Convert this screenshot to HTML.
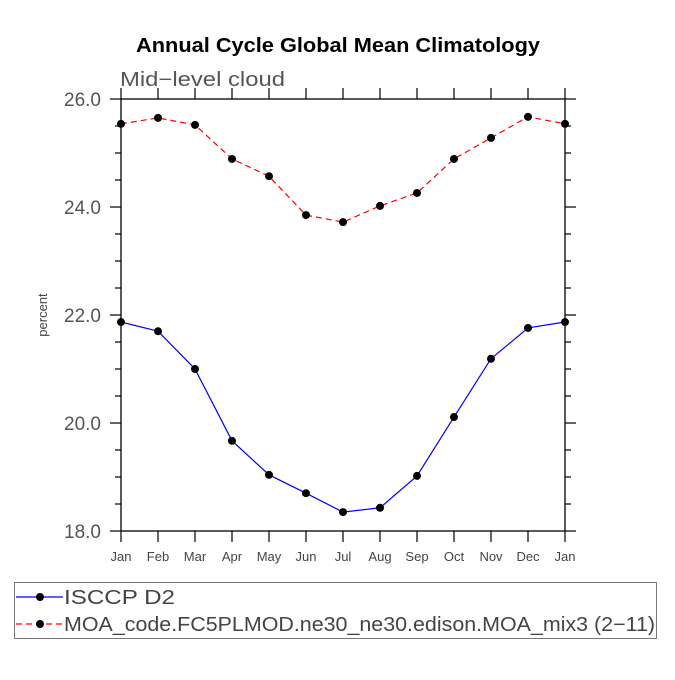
<!DOCTYPE html>
<html><head><meta charset="utf-8"><style>
body{margin:0;background:#fff}
svg text{font-family:"Liberation Sans",sans-serif}
</style></head><body>
<svg id="chart" width="675" height="675" xmlns="http://www.w3.org/2000/svg">
<rect width="675" height="675" fill="#fff"/>
<text x="136" y="52" font-size="20" font-weight="bold" textLength="404" lengthAdjust="spacingAndGlyphs">Annual Cycle Global Mean Climatology</text>
<text x="120" y="86" font-size="20" fill="#555" textLength="165" lengthAdjust="spacingAndGlyphs">Mid−level cloud</text>
<text transform="translate(47,315) rotate(-90)" text-anchor="middle" font-size="13" fill="#444">percent</text>
<g id="axes"></g>
<g id="series"></g>
<g>
<rect x="14.5" y="582.5" width="642" height="56" fill="none" stroke="#777"/>
<g>
<line x1="16" y1="597" x2="63" y2="597" stroke="#00f" stroke-width="1.2"/>
<circle cx="40" cy="597" r="4" fill="#000"/>
<text x="64" y="604" font-size="20" fill="#444" textLength="111" lengthAdjust="spacingAndGlyphs">ISCCP D2</text></g>
<g>
<line x1="16" y1="624" x2="63" y2="624" stroke="#f00" stroke-width="1.2" stroke-dasharray="6,4"/>
<circle cx="40" cy="624" r="4" fill="#000"/>
<text x="64" y="631" font-size="20" fill="#444" textLength="591" lengthAdjust="spacingAndGlyphs">MOA_code.FC5PLMOD.ne30_ne30.edison.MOA_mix3 (2−11)</text></g>
</g>
</svg>
<script>
const months=["Jan","Feb","Mar","Apr","May","Jun","Jul","Aug","Sep","Oct","Nov","Dec","Jan"];
const yTicks=[18,20,22,24,26];
const isccp=[21.87,21.70,21.00,19.67,19.04,18.70,18.35,18.43,19.02,20.11,21.19,21.76,21.87];
const moa=[25.54,25.65,25.52,24.89,24.57,23.85,23.72,24.02,24.26,24.89,25.28,25.67,25.54];
const L=121,R=565,T=99,B=531,ymin=18,ymax=26;
const NS="http://www.w3.org/2000/svg";
const xs=i=>L+i*(R-L)/(months.length-1);
const ys=v=>B-(v-ymin)/(ymax-ymin)*(B-T);
function mk(p,t,a){const e=document.createElementNS(NS,t);for(const k in a)e.setAttribute(k,a[k]);p.appendChild(e);return e;}
const ax=document.getElementById('axes');
const frame=mk(ax,'rect',{x:L,y:T,width:R-L,height:B-T,fill:'none',stroke:'#000','stroke-width':1.3});


months.forEach((m,i)=>{const x=xs(i);
mk(ax,'line',{x1:x,y1:B,x2:x,y2:B+11,stroke:'#000','stroke-width':1.2});
mk(ax,'line',{x1:x,y1:T,x2:x,y2:T-11,stroke:'#000','stroke-width':1.2});
const t=mk(ax,'text',{x:x,y:561,'text-anchor':'middle','font-size':13,fill:'#444'});t.textContent=m;


});
for(let v=ymin;v<=ymax+1e-9;v+=0.5){const y=ys(v);const maj=Math.abs(v-Math.round(v/2)*2)<1e-9;const len=maj?11:6;
mk(ax,'line',{x1:L,y1:y,x2:L-len,y2:y,stroke:'#000','stroke-width':1.2});
mk(ax,'line',{x1:R,y1:y,x2:R+len,y2:y,stroke:'#000','stroke-width':1.2});}
yTicks.forEach(v=>{const t=mk(ax,'text',{x:101,y:ys(v)+7,'text-anchor':'end','font-size':19,fill:'#555'});t.textContent=v.toFixed(1);


});
const sg=document.getElementById('series');
function draw(vals,color,dash,name){
const pl=mk(sg,'polyline',{points:vals.map((v,i)=>xs(i)+','+ys(v)).join(' '),fill:'none',stroke:color,'stroke-width':1.2,'stroke-dasharray':dash});


vals.forEach((v,i)=>{const c=mk(sg,'circle',{cx:xs(i),cy:ys(v),r:4,fill:'#000'});

});
}
draw(isccp,'#00f','none','isccp');
draw(moa,'#f00','6,4','moa');
</script>
</body></html>
